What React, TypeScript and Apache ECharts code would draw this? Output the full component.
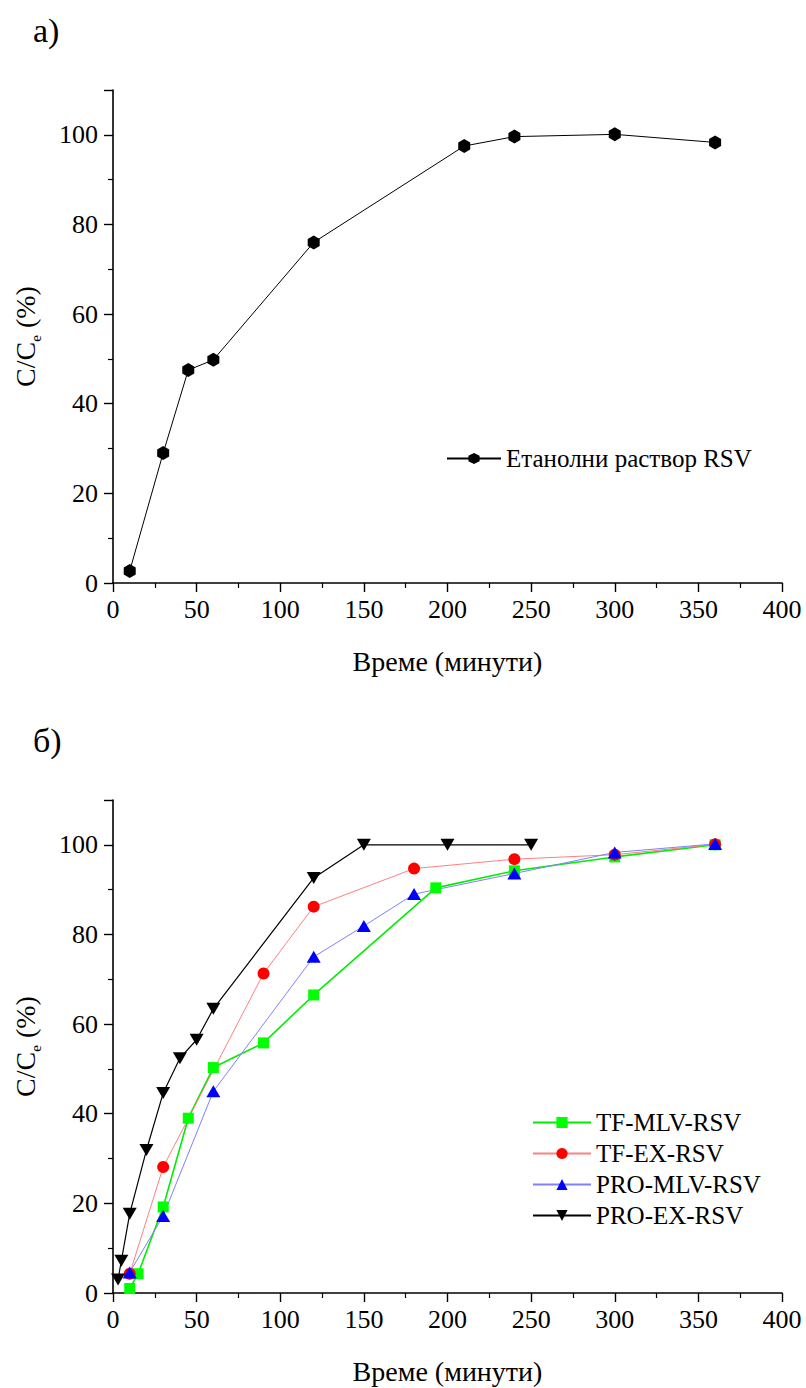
import React, { useEffect, useRef } from "react";
import * as echarts from "echarts";

// ---- Data ----
const ethanolX = [10, 30, 45, 60, 120, 210, 240, 300, 360];
const ethanolY = [2.7, 29, 47.5, 49.8, 76, 97.5, 99.6, 100.1, 98.3];

const tfMlvX = [10, 15, 30, 45, 60, 90, 120, 193, 240, 300, 360];
const tfMlvY = [1.0, 4.3, 19.2, 39.0, 50.3, 55.8, 66.5, 90.4, 94.2, 97.3, 100];

const tfExX = [10, 30, 90, 120, 180, 240, 300, 360];
const tfExY = [4.3, 28.1, 71.3, 86.2, 94.7, 96.8, 97.8, 100.1];

const proMlvX = [10, 30, 60, 120, 150, 180, 240, 300, 360];
const proMlvY = [4.6, 17.2, 45.0, 75.0, 81.9, 89.0, 93.6, 98.3, 100.2];

const proExX = [3, 5, 10, 20, 30, 40, 50, 60, 120, 150, 200, 250];
const proExY = [3.0, 7.2, 17.7, 31.9, 44.6, 52.4, 56.5, 63.4, 92.6, 100, 100, 100];

const xTicks = { min: 0, max: 400, interval: 50 };
const yTicks = { min: 0, max: 110, interval: 20 };

const xName = "Време (минути)";
const seriesNames = ["TF-MLV-RSV", "TF-EX-RSV", "PRO-MLV-RSV", "PRO-EX-RSV"];
const ethanolName = "Етанолни раствор RSV";

const zip = (xs: number[], ys: number[]) => xs.map((x, i) => [x, ys[i]]);

const FONT = "Liberation Serif";
const HEX = "path://M0,-10 L8.66,-5 L8.66,5 L0,10 L-8.66,5 L-8.66,-5 Z";

function makeX(gridIndex: number) {
  return {
    type: "value",
    gridIndex,
    min: xTicks.min,
    max: xTicks.max,
    interval: xTicks.interval,
    name: xName,
    nameLocation: "middle",
    nameGap: 64,
    nameTextStyle: { fontFamily: FONT, fontSize: 28, color: "#000" },
    axisLine: { show: true, onZero: false, lineStyle: { color: "#000", width: 1.6 } },
    axisTick: { show: true, inside: false, length: 9, lineStyle: { color: "#000", width: 1.4 } },
    minorTick: { show: true, splitNumber: 2, length: 5, lineStyle: { color: "#000", width: 1.2 } },
    axisLabel: { fontFamily: FONT, fontSize: 26, color: "#000", margin: 13 },
    splitLine: { show: false },
  };
}

function makeY(gridIndex: number) {
  return {
    type: "value",
    gridIndex,
    min: yTicks.min,
    max: yTicks.max,
    interval: yTicks.interval,
    name: "{a|C/C}{s|e}{a| (%)}",
    nameLocation: "middle",
    nameGap: 70,
    nameTextStyle: {
      fontFamily: FONT,
      fontSize: 28,
      color: "#000",
      rich: {
        a: { fontFamily: FONT, fontSize: 28, color: "#000", lineHeight: 36 },
        s: { fontFamily: FONT, fontSize: 15, color: "#000", verticalAlign: "bottom", lineHeight: 15 },
      },
    },
    axisLine: { show: true, onZero: false, lineStyle: { color: "#000", width: 1.6 } },
    axisTick: { show: true, inside: false, length: 9, lineStyle: { color: "#000", width: 1.4 } },
    minorTick: { show: true, splitNumber: 2, length: 5, lineStyle: { color: "#000", width: 1.2 } },
    axisLabel: {
      fontFamily: FONT,
      fontSize: 26,
      color: "#000",
      margin: 15,
      formatter: (v: number) => (v > 100 ? "" : String(v)),
    },
    splitLine: { show: false },
  };
}

export default function App() {
  const ref = useRef<HTMLDivElement>(null);
  useEffect(() => {
    document.body.style.margin = "0";
    const chart = echarts.init(ref.current!, null, { renderer: "svg" });
    chart.setOption({
      animation: false,
      backgroundColor: "#fff",
      textStyle: { fontFamily: FONT },
      title: [
        { text: "а)", left: 28, top: 8, textStyle: { fontFamily: FONT, fontSize: 34, fontWeight: "normal", color: "#000" } },
        { text: "б)", left: 28, top: 718, textStyle: { fontFamily: FONT, fontSize: 34, fontWeight: "normal", color: "#000" } },
      ],
      grid: [
        { left: 113, top: 90, width: 669, height: 493 },
        { left: 113, top: 800, width: 669, height: 493 },
      ],
      xAxis: [makeX(0), makeX(1)],
      yAxis: [makeY(0), makeY(1)],
      legend: [
        {
          data: [ethanolName],
          left: 441,
          top: 441,
          itemWidth: 54,
          itemHeight: 14,
          itemGap: 6,
          textStyle: { fontFamily: FONT, fontSize: 25, color: "#000" },
        },
        {
          data: seriesNames,
          orient: "vertical",
          left: 527,
          top: 1105,
          itemWidth: 58,
          itemHeight: 14,
          itemGap: 6,
          textStyle: { fontFamily: FONT, fontSize: 25, color: "#000" },
        },
      ],
      series: [
        {
          name: ethanolName,
          type: "line",
          xAxisIndex: 0,
          yAxisIndex: 0,
          data: zip(ethanolX, ethanolY),
          symbol: HEX,
          symbolSize: [12, 14],
          itemStyle: { color: "#000" },
          lineStyle: { color: "#000", width: 1 },
        },
        {
          name: seriesNames[0],
          type: "line",
          xAxisIndex: 1,
          yAxisIndex: 1,
          data: zip(tfMlvX, tfMlvY),
          symbol: "rect",
          symbolSize: 11,
          itemStyle: { color: "#00ff00" },
          lineStyle: { color: "#00ee00", width: 1.6 },
        },
        {
          name: seriesNames[1],
          type: "line",
          xAxisIndex: 1,
          yAxisIndex: 1,
          data: zip(tfExX, tfExY),
          symbol: "circle",
          symbolSize: 12,
          itemStyle: { color: "#ff0000" },
          lineStyle: { color: "#ff8080", width: 1 },
        },
        {
          name: seriesNames[2],
          type: "line",
          xAxisIndex: 1,
          yAxisIndex: 1,
          data: zip(proMlvX, proMlvY),
          symbol: "triangle",
          symbolSize: [14, 12],
          itemStyle: { color: "#0000ff" },
          lineStyle: { color: "#8080ff", width: 1 },
        },
        {
          name: seriesNames[3],
          type: "line",
          xAxisIndex: 1,
          yAxisIndex: 1,
          data: zip(proExX, proExY),
          symbol: "triangle",
          symbolRotate: 180,
          symbolSize: [14, 12],
          itemStyle: { color: "#000" },
          lineStyle: { color: "#000", width: 1.2 },
        },
      ],
    });
    return () => chart.dispose();
  }, []);
  return <div ref={ref} style={{ width: 806, height: 1388 }} />;
}
